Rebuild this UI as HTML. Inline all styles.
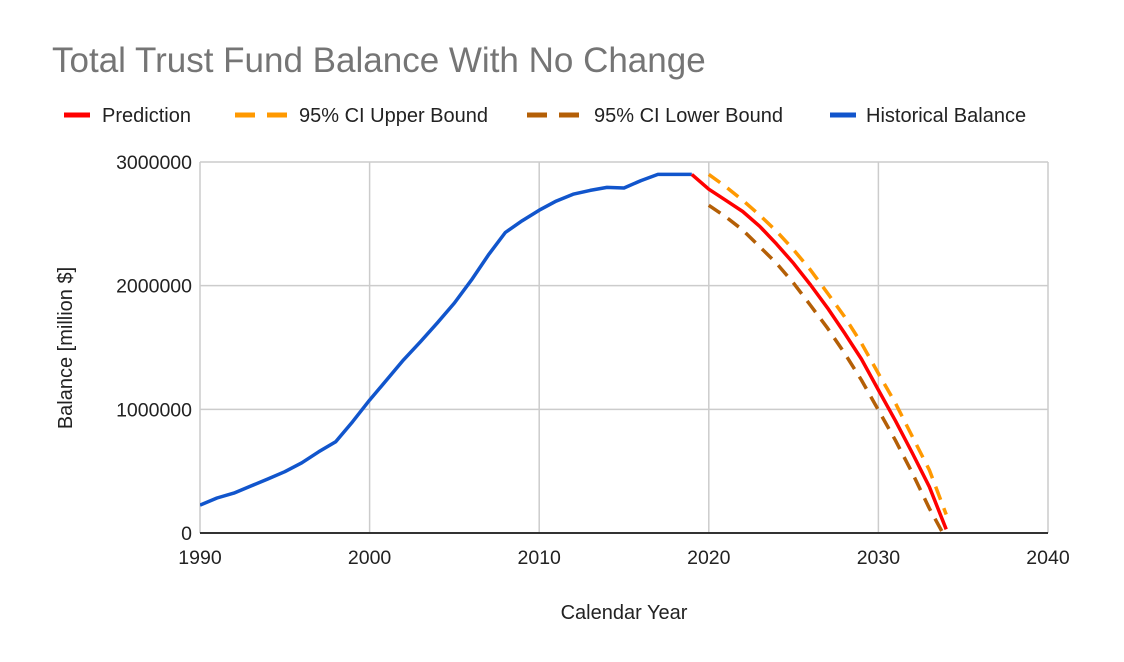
<!DOCTYPE html>
<html><head><meta charset="utf-8"><style>
body{margin:0;background:#fff;font-family:"Liberation Sans",sans-serif}
svg text{font-family:"Liberation Sans",sans-serif}
</style></head><body>
<svg id="c" width="1124" height="657" xmlns="http://www.w3.org/2000/svg">
<rect width="1124" height="657" fill="#fff"/>
<text x="52" y="72" font-size="35" fill="#757575">Total Trust Fund Balance With No Change</text>
<g id="legend" font-size="20" fill="#222">
<g><line x1="64" y1="115" x2="90" y2="115" stroke="#ff0000" stroke-width="5"/><text x="102" y="122">Prediction</text></g>
<g><line x1="235" y1="115" x2="287" y2="115" stroke="#ff9900" stroke-width="5" stroke-dasharray="20,12"/><text x="299" y="122">95% CI Upper Bound</text></g>
<g><line x1="527" y1="115" x2="582" y2="115" stroke="#b45f06" stroke-width="5" stroke-dasharray="20,12"/><text x="594" y="122">95% CI Lower Bound</text></g>
<g><line x1="830" y1="115" x2="856" y2="115" stroke="#1155cc" stroke-width="5"/><text x="866" y="122">Historical Balance</text></g>
</g>
<g id="grid"></g>
<g id="series"></g>
<g id="axes"></g>
<text x="624" y="619" font-size="20" text-anchor="middle" fill="#222">Calendar Year</text>
<text transform="translate(72,348) rotate(-90)" font-size="20" text-anchor="middle" fill="#222">Balance [million $]</text>
</svg>
<script>
const xTicks=[1990,2000,2010,2020,2030,2040];
const yTicks=[0,1000000,2000000,3000000];
const histYears=[1990,1991,1992,1993,1994,1995,1996,1997,1998,1999,2000,2001,2002,2003,2004,2005,2006,2007,2008,2009,2010,2011,2012,2013,2014,2015,2016,2017,2018,2019];
const histValues=[226000,283000,323000,380000,437000,496000,568000,657000,738000,900000,1075000,1237000,1400000,1547000,1700000,1860000,2045000,2247000,2430000,2525000,2610000,2684000,2740000,2770000,2795000,2790000,2850000,2900000,2900000,2900000];
const predYears=[2019,2020,2021,2022,2023,2024,2025,2026,2027,2028,2029,2030,2031,2032,2033,2034];
const predValues=[2900000,2780000,2690000,2600000,2480000,2336000,2180000,2005000,1820000,1617000,1407000,1156000,908000,647000,374000,30000];
const ciYears=[2020,2021,2022,2023,2024,2025,2026,2027,2028,2029,2030,2031,2032,2033,2034];
const upperValues=[2900000,2800000,2690000,2570000,2440000,2290000,2126000,1940000,1750000,1535000,1290000,1050000,780000,510000,150000];
const lowerValues=[2650000,2557000,2450000,2315000,2180000,2020000,1840000,1657000,1455000,1237000,994000,750000,485000,200000,-50000];
const X0=200,X1=1048,Y0=533,Y1=162;
const xs=v=>X0+(v-1990)/(2040-1990)*(X1-X0);
const ys=v=>Y0-(v/3000000)*(Y0-Y1);
const NS="http://www.w3.org/2000/svg";
const svg=document.getElementById('c');
function mk(tag,attrs,parent){const e=document.createElementNS(NS,tag);for(const k in attrs)e.setAttribute(k,attrs[k]);parent.appendChild(e);return e;}
const grid=document.getElementById('grid'),axes=document.getElementById('axes'),series=document.getElementById('series');
const defs=mk('defs',{},svg);
const cp=mk('clipPath',{id:'clip'},defs);mk('rect',{x:X0,y:Y1-10,width:X1-X0,height:Y0-Y1+10},cp);
series.setAttribute('clip-path','url(#clip)');
xTicks.forEach(t=>{
 const l=mk('line',{x1:xs(t),x2:xs(t),y1:Y1,y2:Y0,stroke:'#cccccc','stroke-width':1.5},grid);
 
 
 const tx=mk('text',{x:xs(t),y:Y0+31,'font-size':19.5,'text-anchor':'middle',fill:'#222'},axes);
 tx.textContent=t;
 
 
});
yTicks.forEach(t=>{
 if(t>0){const l=mk('line',{x1:X0,x2:X1,y1:ys(t),y2:ys(t),stroke:'#cccccc','stroke-width':1.5},grid);
 
 }
 const tx=mk('text',{x:X0-8,y:ys(t)+7,'font-size':19.5,'text-anchor':'end',fill:'#222'},axes);
 tx.textContent=t;
 
 
});
const base=mk('line',{x1:X0,x2:X1,y1:Y0,y2:Y0,stroke:'#333','stroke-width':2},axes);


function line(xa,va,color,dash,name){
 const d=xa.map((x,i)=>(i?'L':'M')+xs(x).toFixed(1)+','+ys(va[i]).toFixed(1)).join(' ');
 const p=mk('path',{d:d,fill:'none',stroke:color,'stroke-width':3.5,'stroke-linejoin':'round'},series);
 if(dash)p.setAttribute('stroke-dasharray',dash);
 
 
}
line(ciYears,upperValues,'#ff9900','14,9','upper-bound-line');
line(ciYears,lowerValues,'#b45f06','14,9','lower-bound-line');
line(histYears,histValues,'#1155cc',null,'historical-balance-line');
line(predYears,predValues,'#ff0000',null,'prediction-line');
</script>
</body></html>
